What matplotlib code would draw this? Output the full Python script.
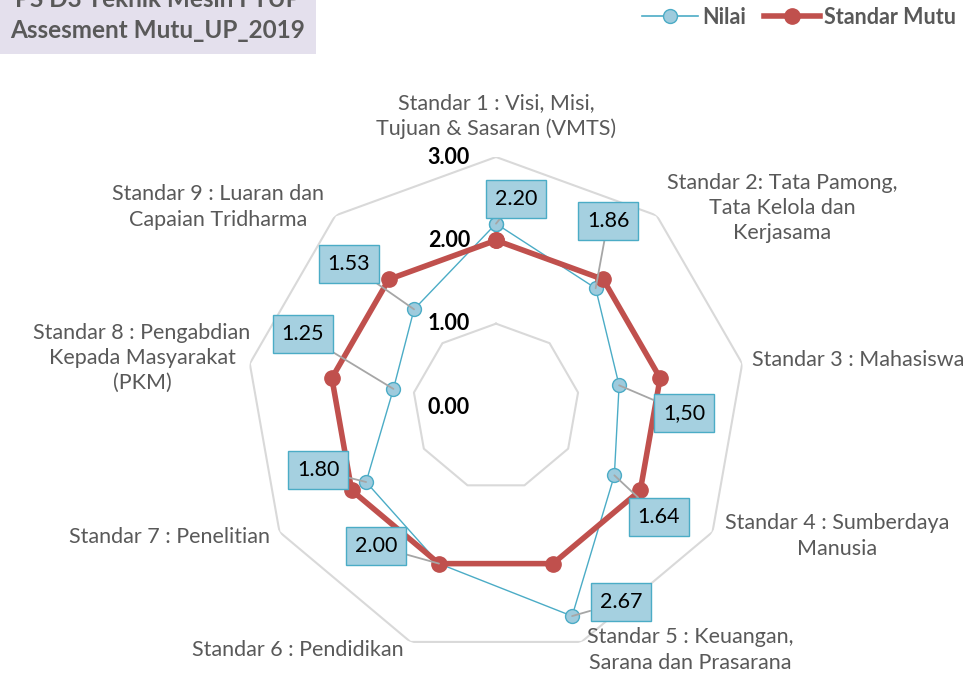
import numpy as np
import matplotlib
matplotlib.use("Agg")
import matplotlib.pyplot as plt
from matplotlib.patches import Rectangle
from matplotlib.lines import Line2D
from matplotlib.transforms import offset_copy

# ---- data ----
categories = [
    "Standar 1 : Visi, Misi,\nTujuan & Sasaran (VMTS)",
    "Standar 2: Tata Pamong,\nTata Kelola dan\nKerjasama",
    "Standar 3 : Mahasiswa",
    "Standar 4 : Sumberdaya\nManusia",
    "Standar 5 : Keuangan,\nSarana dan Prasarana",
    "Standar 6 : Pendidikan",
    "Standar 7 : Penelitian",
    "Standar 8 : Pengabdian\nKepada Masyarakat\n(PKM)",
    "Standar 9 : Luaran dan\nCapaian Tridharma",
]
nilai = [2.20, 1.86, 1.50, 1.64, 2.67, 2.00, 1.80, 1.25, 1.53]
nilai_labels = ["2.20", "1.86", "1,50", "1.64", "2.67", "2.00", "1.80", "1.25", "1.53"]
standar_mutu = [2.00, 2.00, 2.00, 2.00, 2.00, 2.00, 2.00, 2.00, 2.00]
radial_ticks = [0.0, 1.0, 2.0, 3.0]
radial_tick_labels = ["0.00", "1.00", "2.00", "3.00"]
title_lines = "PS D3 Teknik Mesin FTUP\nAssesment Mutu_UP_2019"
series_names = ["Nilai", "Standar Mutu"]

FONT = ["Lato", "DejaVu Sans"]
plt.rcParams['font.family'] = FONT

W, H = 973, 675
fig = plt.figure(figsize=(W / 100, H / 100), dpi=100)

# polar axes: centre at (496,407) px, radius 250 px for r=3
cx, cy, R = 496, 407, 250
ax = fig.add_axes([(cx - R) / W, (H - cy - R) / H, 2 * R / W, 2 * R / H], projection='polar')
ax.set_theta_zero_location('N')
ax.set_theta_direction(-1)
ax.set_ylim(0, 3)
ax.grid(False)
ax.set_xticks([])
ax.set_yticks([])
ax.spines['polar'].set_visible(False)
ax.patch.set_alpha(0)

n = len(categories)
theta = np.arange(n) * 2 * np.pi / n
theta_c = np.append(theta, theta[0])

grid_col = '#d9d9d9'
for r in [1.0, 3.0]:
    ax.plot(theta_c, [r] * (n + 1), color=grid_col, lw=1.5, zorder=1)

nil_c = np.append(nilai, nilai[0])
std_c = np.append(standar_mutu, standar_mutu[0])

ax.plot(theta_c, nil_c, color='#4bacc6', lw=1.0, marker='o', ms=10,
        markerfacecolor='#9ecbdd', markeredgecolor='#4bacc6', markeredgewidth=1.0,
        zorder=3, clip_on=False)
ax.plot(theta_c, std_c, color='#c0504d', lw=4.0, marker='o', ms=11,
        markerfacecolor='#c0504d', markeredgecolor='#c0504d', zorder=4, clip_on=False)

# radial tick labels
tr = offset_copy(ax.transData, fig=fig, x=-26, y=0, units='dots')
for r, lab in zip(radial_ticks, radial_tick_labels):
    ax.text(0, r, lab, transform=tr, ha='right', va='center', fontsize=15.5,
            fontweight='bold', color='black', zorder=5)

# data labels (box positions in figure pixels, from top)
label_pos = [(516, 199), (608, 221), (684, 413), (659, 517), (621, 602),
             (376, 546), (318, 470), (303, 334), (349, 264)]
for t, v, lab, (px, py) in zip(theta, nilai, nilai_labels, label_pos):
    ax.annotate(lab, xy=(t, v), xytext=(px, H - py), textcoords='figure pixels',
                ha='center', va='center', fontsize=15.5, color='black', zorder=6,
                bbox=dict(boxstyle='square,pad=0.42', fc='#a5d0e0', ec='#4bacc6', lw=1.0),
                arrowprops=dict(arrowstyle='-', color='#a6a6a6', lw=1.3,
                                shrinkA=0, shrinkB=0), annotation_clip=False)

# category labels (figure pixel positions from top)
cat_pos = [
    (496, 116, 'center'), (782, 208, 'center'), (752, 360, 'left'),
    (837, 536, 'center'), (690, 650, 'center'), (298, 650, 'center'),
    (270, 537, 'right'), (142, 358, 'center'), (218, 207, 'center'),
]
for lab, (px, py, ha) in zip(categories, cat_pos):
    fig.text(px / W, (H - py) / H, lab, ha=ha, va='center', multialignment='center',
             fontsize=15.5, color='#595959', linespacing=1.32)

# title box
fig.patches.append(Rectangle((0, (H - 54) / H), 316 / W, 54 / H, transform=fig.transFigure,
                             facecolor='#e4e0ed', edgecolor='none', zorder=0))
fig.text(158 / W, (H - 15) / H, title_lines, ha='center', va='center',
         multialignment='center', fontsize=17.5, fontweight='bold', color='#595959',
         linespacing=1.38)

# legend
h1 = Line2D([], [], color='#4bacc6', lw=1.2, marker='o', ms=10,
            markerfacecolor='#9ecbdd', markeredgecolor='#4bacc6')
h2 = Line2D([], [], color='#c0504d', lw=4.0, marker='o', ms=11,
            markerfacecolor='#c0504d', markeredgecolor='#c0504d')
leg = fig.legend([h1, h2], series_names, loc='center right',
                 bbox_to_anchor=(956 / W, (H - 17) / H), ncol=2, frameon=False,
                 handlelength=2.6, handletextpad=0.2, columnspacing=0.8,
                 borderpad=0, borderaxespad=0,
                 prop=dict(family=FONT, weight='bold', size=15.5))
for t in leg.get_texts():
    t.set_color('#595959')

fig.savefig('out.png', dpi=100)
